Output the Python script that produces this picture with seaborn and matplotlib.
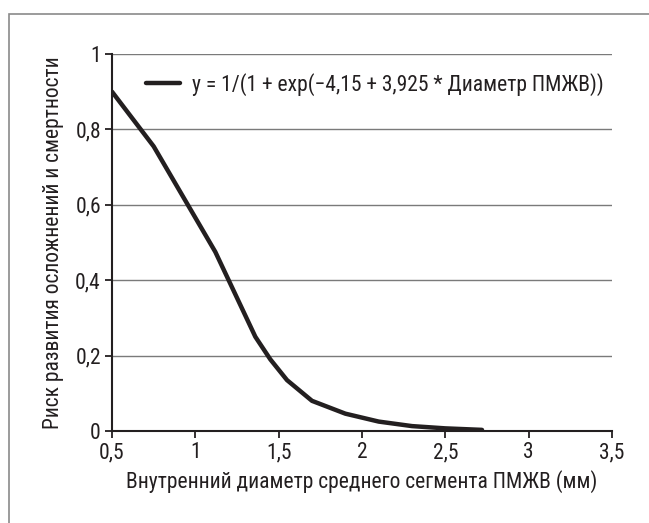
import matplotlib
matplotlib.use("Agg")
import matplotlib.pyplot as plt
from matplotlib.ticker import FuncFormatter, MultipleLocator
from matplotlib.patches import Rectangle
import seaborn as sns
import pandas as pd

# Inner diameter of the mid-LAD segment (mm) and predicted risk
diameter = [0.5, 0.75, 1.12, 1.36, 1.45, 1.55, 1.7, 1.9, 2.1, 2.3, 2.5, 2.72]
risk = [0.90, 0.755, 0.475, 0.25, 0.19, 0.135, 0.08, 0.046, 0.025, 0.013, 0.007, 0.003]

curve_label = "y = 1/(1 + exp(\u22124,15 + 3,925 * Диаметр ПМЖВ))"
x_title = "Внутренний диаметр среднего сегмента ПМЖВ (мм)"
y_title = "Риск развития осложнений и смертности"

df = pd.DataFrame({"diameter": diameter, "risk": risk})

sns.set_theme(style="white")
plt.rcParams["font.family"] = ["Roboto Condensed", "DejaVu Sans"]

INK = "#231f20"

fig = plt.figure(figsize=(6.49, 5.23), dpi=100)
ax = fig.add_axes([112 / 649, 1 - 431 / 523, 500 / 649, (431 - 54) / 523])

# outer frame around the figure
fig.patches.append(Rectangle((9 / 649, -0.05), 1.2, 1 - 14 / 523 + 0.05,
                             transform=fig.transFigure, fill=False,
                             edgecolor="#8a8a8a", linewidth=1.2))

sns.lineplot(data=df, x="diameter", y="risk", ax=ax, color=INK,
             linewidth=3.2, label=curve_label, sort=False)

ax.set_xlim(0.5, 3.5)
ax.set_ylim(0, 1)
ax.xaxis.set_major_locator(MultipleLocator(0.5))
ax.yaxis.set_major_locator(MultipleLocator(0.2))
fmt = FuncFormatter(lambda v, p: f"{v:g}".replace(".", ","))
ax.xaxis.set_major_formatter(fmt)
ax.yaxis.set_major_formatter(fmt)

ax.grid(axis="y", color="#7a7a7a", linewidth=1.0)
ax.set_axisbelow(True)
for s in ["top", "right"]:
    ax.spines[s].set_visible(False)
for s in ["left", "bottom"]:
    ax.spines[s].set_color(INK)
    ax.spines[s].set_linewidth(1.5)

ax.tick_params(axis="both", which="major", direction="out", length=5,
               width=1.3, color=INK, labelsize=15.5, labelcolor=INK,
               bottom=True, left=True, pad=3)

ax.set_xlabel(x_title, fontsize=15.5, color=INK, labelpad=5)
ax.set_ylabel(y_title, fontsize=15.5, color=INK, labelpad=8)

leg = ax.legend(loc="upper right", frameon=False, fontsize=15.5,
                handlelength=1.6, handletextpad=0.55,
                bbox_to_anchor=(1.01, 0.985), borderaxespad=0.2)
for t in leg.get_texts():
    t.set_color(INK)

fig.savefig("out.png", dpi=100)
